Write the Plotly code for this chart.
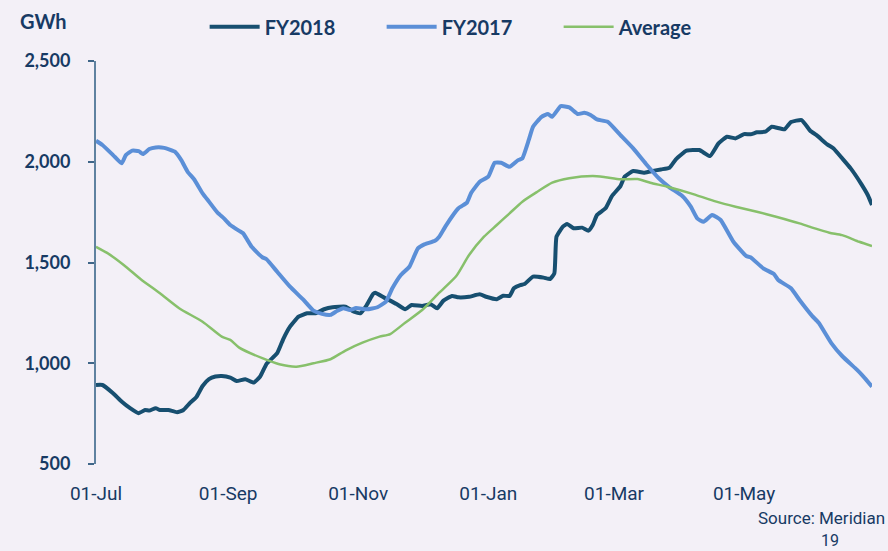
import plotly.graph_objects as go

# ---- data (GWh) ----
fy2017_dates = ["2017-07-01","2017-07-04","2017-07-09","2017-07-13","2017-07-15","2017-07-18","2017-07-21","2017-07-23","2017-07-26","2017-07-29",
"2017-08-02","2017-08-07","2017-08-10","2017-08-13","2017-08-16","2017-08-20","2017-08-23","2017-08-27","2017-08-30",
"2017-09-02","2017-09-06","2017-09-08","2017-09-12","2017-09-17","2017-09-19","2017-09-24","2017-09-30",
"2017-10-06","2017-10-11","2017-10-15","2017-10-19","2017-10-22","2017-10-25","2017-10-28","2017-10-31",
"2017-11-05","2017-11-10","2017-11-14","2017-11-17","2017-11-21","2017-11-25","2017-11-29",
"2017-12-02","2017-12-07","2017-12-09","2017-12-12","2017-12-18","2017-12-22","2017-12-24","2017-12-28",
"2018-01-01","2018-01-04","2018-01-07","2018-01-11","2018-01-15","2018-01-17","2018-01-20","2018-01-22","2018-01-26","2018-01-29","2018-01-31",
"2018-02-04","2018-02-08","2018-02-12","2018-02-15","2018-02-18","2018-02-21","2018-02-26",
"2018-03-04","2018-03-10","2018-03-16","2018-03-22","2018-03-27",
"2018-04-02","2018-04-06","2018-04-09","2018-04-12","2018-04-16","2018-04-20","2018-04-26",
"2018-05-02","2018-05-04","2018-05-10","2018-05-15","2018-05-17","2018-05-23","2018-05-27",
"2018-06-02","2018-06-05","2018-06-11","2018-06-16","2018-06-23","2018-06-26","2018-06-30"]
fy2017_values = [2104,2083,2033,1992,2033,2055,2053,2038,2063,2071,
2069,2050,2008,1950,1913,1843,1802,1747,1719,
1686,1658,1645,1578,1526,1516,1454,1380,
1318,1261,1245,1240,1259,1273,1264,1274,
1268,1278,1306,1372,1438,1479,1570,
1590,1608,1628,1681,1769,1797,1846,1901,
1926,1995,1995,1975,2008,2017,2108,2174,2223,2237,2223,
2276,2270,2237,2243,2232,2210,2198,
2132,2066,1989,1918,1873,
1830,1777,1719,1702,1736,1711,1603,
1532,1526,1471,1443,1413,1372,1314,
1234,1201,1099,1036,967,934,884]

fy2018_dates = ["2017-07-01","2017-07-04","2017-07-09","2017-07-13","2017-07-17","2017-07-21","2017-07-24","2017-07-26","2017-07-29","2017-07-31",
"2017-08-04","2017-08-08","2017-08-11","2017-08-14","2017-08-17","2017-08-20","2017-08-23","2017-08-26","2017-08-29",
"2017-09-02","2017-09-05","2017-09-09","2017-09-13","2017-09-16","2017-09-19","2017-09-24","2017-09-27","2017-09-30",
"2017-10-04","2017-10-08","2017-10-12","2017-10-16","2017-10-20","2017-10-26","2017-10-30",
"2017-11-02","2017-11-05","2017-11-08","2017-11-09","2017-11-13","2017-11-19","2017-11-23","2017-11-26",
"2017-12-01","2017-12-05","2017-12-08","2017-12-11","2017-12-15","2017-12-18","2017-12-23","2017-12-28","2017-12-31",
"2018-01-05","2018-01-08","2018-01-11","2018-01-13","2018-01-16","2018-01-18","2018-01-22","2018-01-27","2018-01-30",
"2018-02-01","2018-02-02","2018-02-05","2018-02-07","2018-02-10","2018-02-14","2018-02-17","2018-02-19","2018-02-21","2018-02-25","2018-02-28",
"2018-03-04","2018-03-06","2018-03-10","2018-03-15","2018-03-18","2018-03-23","2018-03-27","2018-03-30",
"2018-04-04","2018-04-10","2018-04-15","2018-04-19","2018-04-23","2018-04-27",
"2018-05-01","2018-05-04","2018-05-07","2018-05-11","2018-05-14","2018-05-20","2018-05-23","2018-05-28",
"2018-06-01","2018-06-04","2018-06-09","2018-06-12","2018-06-16","2018-06-20","2018-06-25","2018-06-28","2018-06-30"]
fy2018_values = [892,892,851,810,777,752,768,765,777,768,
768,757,768,802,831,887,921,934,937,
929,912,921,904,934,997,1050,1124,1182,
1231,1248,1248,1268,1278,1281,1256,
1248,1289,1344,1350,1327,1294,1268,1289,
1284,1293,1273,1311,1334,1327,1330,1342,1330,
1318,1335,1334,1372,1388,1393,1430,1425,1418,
1446,1628,1678,1691,1670,1673,1658,1686,1736,1769,1830,
1879,1926,1954,1945,1952,1962,1970,2012,
2055,2058,2028,2091,2124,2116,
2137,2136,2146,2149,2174,2161,2197,2207,
2154,2132,2086,2066,2017,1967,1889,1835,1785]

avg_dates = ["2017-07-01","2017-07-06","2017-07-14","2017-07-22","2017-07-31","2017-08-09","2017-08-20","2017-08-29",
"2017-09-02","2017-09-06","2017-09-17","2017-09-25","2017-10-03","2017-10-11","2017-10-19","2017-10-26",
"2017-11-03","2017-11-11","2017-11-16","2017-11-23","2017-12-01","2017-12-09","2017-12-17","2017-12-23","2017-12-30",
"2018-01-05","2018-01-11","2018-01-17","2018-01-24","2018-01-31","2018-02-08","2018-02-19","2018-02-25",
"2018-03-04","2018-03-12","2018-03-18","2018-03-26","2018-04-06","2018-04-18","2018-04-27",
"2018-05-07","2018-05-16","2018-05-27","2018-06-02","2018-06-10","2018-06-16","2018-06-24","2018-06-30"]
avg_values = [1578,1549,1488,1417,1347,1273,1206,1132,
1116,1079,1025,995,983,1000,1020,1063,
1102,1132,1145,1201,1264,1350,1433,1537,1628,
1686,1744,1802,1851,1896,1918,1929,1923,
1913,1914,1896,1876,1843,1802,1777,
1752,1727,1694,1673,1648,1636,1603,1582]

x_tick_vals = ["2017-07-01","2017-09-01","2017-11-01","2018-01-01","2018-03-01","2018-05-01"]
x_tick_text = ["01-Jul","01-Sep","01-Nov","01-Jan","01-Mar","01-May"]
y_tick_vals = [500,1000,1500,2000,2500]
y_tick_text = ["500","1,000","1,500","2,000","2,500"]

NAVY = "#173a64"
BG = "#f3f0f7"

fig = go.Figure()
fig.add_trace(go.Scatter(x=fy2018_dates, y=fy2018_values, name="FY2018", mode="lines",
                         line=dict(color="#174f70", width=4, shape="spline", smoothing=0.4)))
fig.add_trace(go.Scatter(x=fy2017_dates, y=fy2017_values, name="FY2017", mode="lines",
                         line=dict(color="#5b8fd7", width=4, shape="spline", smoothing=0.4)))
fig.add_trace(go.Scatter(x=avg_dates, y=avg_values, name="Average", mode="lines",
                         line=dict(color="#87c06b", width=2.5, shape="spline", smoothing=0.6)))

fig.update_layout(
    width=888, height=551,
    margin=dict(l=96, r=16, t=61, b=87, autoexpand=False),
    paper_bgcolor=BG, plot_bgcolor=BG,
    font=dict(family="Lato, sans-serif", color=NAVY),
    showlegend=True,
    legend=dict(orientation="h", x=0.14, xanchor="left", y=1.085, yanchor="middle",
                font=dict(size=20, family="Lato", color=NAVY, weight="bold"),
                bgcolor="rgba(0,0,0,0)", entrywidth=112, entrywidthmode="pixels",
                itemwidth=50),
    xaxis=dict(type="date", range=["2017-07-01", "2018-06-30"],
               tickvals=x_tick_vals, ticktext=x_tick_text,
               showgrid=False, zeroline=False, showline=False, ticks="",
               ticklabelstandoff=16,
               tickfont=dict(size=19, family="Roboto, sans-serif", color=NAVY)),
    yaxis=dict(range=[500, 2500], tickvals=y_tick_vals, ticktext=y_tick_text,
               showgrid=False, zeroline=False, showline=True, linecolor="#5f82a0", linewidth=2,
               ticks="outside", ticklen=6, tickwidth=2, tickcolor="#3f6688",
               ticklabelstandoff=14,
               tickfont=dict(size=18, family="Lato", color=NAVY, weight="bold")),
    annotations=[
        dict(text="GWh", xref="paper", yref="paper", x=-0.1, y=1.1, xanchor="left", yanchor="middle",
             showarrow=False, font=dict(size=20, family="Lato", color=NAVY, weight="bold")),
        dict(text="Source: Meridian", xref="paper", yref="paper", x=1.019, y=-0.135, xanchor="right", yanchor="middle",
             showarrow=False, font=dict(size=17, family="Roboto", color=NAVY)),
        dict(text="19", xref="paper", yref="paper", x=0.946, y=-0.191, xanchor="center", yanchor="middle",
             showarrow=False, font=dict(size=16, family="Roboto", color=NAVY)),
    ],
)

fig.write_html("out.html", config={"displayModeBar": False},
               post_script="document.body.style.margin='0';document.body.style.padding='0';")
